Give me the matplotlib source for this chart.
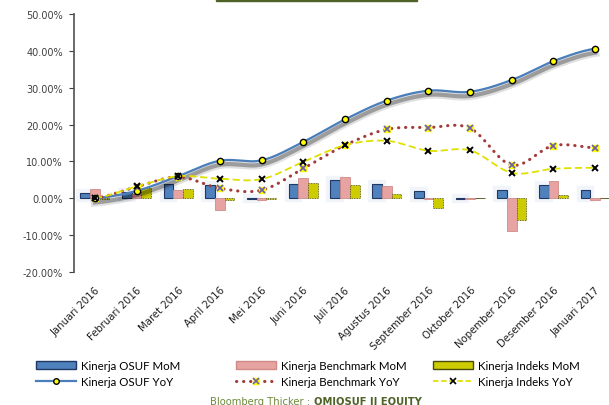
import numpy as np
import matplotlib
matplotlib.use("Agg")
import matplotlib.pyplot as plt
import matplotlib.patheffects as pe
from matplotlib.patches import Patch, Rectangle
from matplotlib.lines import Line2D
from matplotlib.ticker import FuncFormatter

months = ["Januari 2016", "Februari 2016", "Maret 2016", "April 2016", "Mei 2016",
          "Juni 2016", "Juli 2016", "Agustus 2016", "September 2016", "Oktober 2016",
          "Nopember 2016", "Desember 2016", "Januari 2017"]

# monthly returns (%)
osuf_mom = [1.4, 1.8, 4.0, 3.6, -0.2, 4.0, 4.9, 4.0, 2.1, -0.3, 2.2, 3.6, 2.2]
bench_mom = [2.4, 1.2, 2.2, -3.1, -0.5, 5.6, 5.8, 3.4, -0.3, -0.3, -8.8, 4.8, -0.5]
indeks_mom = [-0.3, 2.7, 2.4, -0.5, -0.3, 4.2, 3.6, 1.2, -2.7, 0.2, -5.8, 0.9, 0.2]

# year-on-year (%)
osuf_yoy = [0.0, 2.0, 6.0, 10.2, 10.3, 15.3, 21.4, 26.5, 29.2, 28.9, 32.1, 37.2, 40.6]
bench_yoy = [0.0, 3.1, 5.8, 2.7, 2.2, 8.1, 14.4, 18.7, 19.2, 19.0, 9.0, 14.3, 13.7]
indeks_yoy = [0.0, 3.2, 6.0, 5.3, 5.2, 9.9, 14.4, 15.6, 12.9, 13.0, 6.9, 8.0, 8.3]


def smooth(vals, n=20):
    # catmull-rom style smoothing, like excel's smoothed line
    v = np.asarray(vals, dtype=float)
    xs, ys = [], []
    for i in range(len(v) - 1):
        p0 = v[i - 1] if i > 0 else v[i]
        p1, p2 = v[i], v[i + 1]
        p3 = v[i + 2] if i + 2 < len(v) else v[i + 1]
        m1 = (p2 - p0) / 2
        m2 = (p3 - p1) / 2
        t = np.linspace(0, 1, n, endpoint=False)
        h00 = 2 * t**3 - 3 * t**2 + 1
        h10 = t**3 - 2 * t**2 + t
        h01 = -2 * t**3 + 3 * t**2
        h11 = t**3 - t**2
        ys.append(h00 * p1 + h10 * m1 + h01 * p2 + h11 * m2)
        xs.append(i + t)
    xs.append([len(v) - 1])
    ys.append([v[-1]])
    return np.concatenate(xs), np.concatenate(ys)


W, H = 609, 406
fig = plt.figure(figsize=(W / 100, H / 100), dpi=100)
ax = fig.add_axes([74 / W, 1 - 273 / H, (616 - 74) / W, (273 - 15) / H])

x = np.arange(len(months))
bw = 0.233
blue = "#4F81BD"
pink = "#E6A3A1"
yel = "#CCCC00"

# soft glow behind the blue bars
glow = [pe.Stroke(linewidth=6, foreground="#DCE6F4", alpha=0.4), pe.Normal()]
b1 = ax.bar(x - bw, osuf_mom, bw, color=blue, edgecolor="#1F3864", linewidth=0.8, zorder=2,
            path_effects=glow)
b2 = ax.bar(x, bench_mom, bw, color=pink, edgecolor="#D08A88", linewidth=0.6, zorder=2.1)
b3 = ax.bar(x + bw, indeks_mom, bw, color=yel, edgecolor="#4A4A10", linewidth=0.6,
            linestyle=(0, (1, 1)), zorder=2.1)

# OSUF YoY
sx, sy = smooth(osuf_yoy)
shadow = [pe.SimpleLineShadow(offset=(0, -3), shadow_color="k", alpha=0.12, linewidth=6),
          pe.SimpleLineShadow(offset=(0, -3), shadow_color="k", alpha=0.3, linewidth=3),
          pe.Normal()]
ax.plot(sx, sy, color="#4A7EBB", lw=1.6, zorder=4, path_effects=shadow)
ax.plot(x, osuf_yoy, "o", ms=4.5, mfc="#FFFF00", mec="black", mew=1.0, zorder=6)

# Benchmark YoY
sx, sy = smooth(bench_yoy)
ax.plot(sx, sy, color="#A33B3B", lw=2.2, linestyle=(0, (0.1, 2.2)),
        dash_capstyle="round", zorder=4)
ax.plot(x, bench_yoy, "s", ms=5, mfc="#FFFF00", mec="#FFFF00", zorder=5)
ax.plot(x, bench_yoy, "x", ms=4, mec="#7060A8", mew=1.3, zorder=6)

# Indeks YoY
sx, sy = smooth(indeks_yoy)
ax.plot(sx, sy, color="#E0E000", lw=1.3, linestyle=(0, (4, 2)), zorder=4)
ax.plot(x, indeks_yoy, "x", ms=4, mec="black", mew=1.4, zorder=6)

ax.set_xlim(-0.5, len(months) - 0.5)
ax.set_ylim(-20, 50)
ax.set_yticks(np.arange(-20, 51, 10))
ax.yaxis.set_major_formatter(FuncFormatter(lambda v, p: f"{v:.2f}%"))
ax.tick_params(axis="y", labelsize=7, colors="#404040", length=3.5, pad=4.5)
ax.set_xticks(x)
ax.set_xticklabels(months, rotation=45, ha="right", va="top", rotation_mode="anchor",
                   fontsize=7.3, color="#202020")
ax.tick_params(axis="x", length=0, pad=9)
for s in ["top", "right", "bottom"]:
    ax.spines[s].set_visible(False)
ax.spines["left"].set_color("#505050")
ax.spines["left"].set_linewidth(1.2)

# legend, three columns
h_osuf_mom = Patch(facecolor=blue, edgecolor="#1F3864")
h_bench_mom = Patch(facecolor=pink, edgecolor="#D08A88")
h_idx_mom = Patch(facecolor=yel, edgecolor="#4A4A10")
h_osuf_yoy = Line2D([], [], color="#4A7EBB", lw=1.6, marker="o", ms=4, mfc="#FFFF00", mec="black")
h_bench_yoy = (Line2D([], [], color="#A33B3B", lw=2.2, linestyle=(0, (0.1, 2.2)), dash_capstyle="round"),
               Line2D([], [], ls="none", marker="s", ms=5, mfc="#FFFF00", mec="#FFFF00"),
               Line2D([], [], ls="none", marker="x", ms=4, mec="#7060A8", mew=1.2))
h_idx_yoy = Line2D([], [], color="#E0E000", lw=1.3, linestyle=(0, (3, 1.5)), marker="x", ms=4,
                   mec="black", mew=1.2)

cols = [(36, [h_osuf_mom, h_osuf_yoy], ["Kinerja OSUF MoM", "Kinerja OSUF YoY"]),
        (236, [h_bench_mom, h_bench_yoy], ["Kinerja Benchmark MoM", "Kinerja Benchmark YoY"]),
        (433, [h_idx_mom, h_idx_yoy], ["Kinerja Indeks MoM", "Kinerja Indeks YoY"])]
for xp, hs, ls in cols:
    fig.legend(hs, ls, loc="upper left", bbox_to_anchor=(xp / W, 1 - 361 / H),
               frameon=False, handlelength=3.5, handletextpad=0.4,
               labelspacing=0.4, borderpad=0, borderaxespad=0,
               prop={"family": "Lato", "size": 8.3})

# footer
fig.text(313 / W, 1 - 402 / H, "Bloomberg Thicker : ", ha="right", va="center",
         fontsize=7.2, color="#6E8A3A", family=["Liberation Sans Narrow", "DejaVu Sans"])
fig.text(314 / W, 1 - 402 / H, "OMIOSUF IJ EQUITY", ha="left", va="center",
         fontsize=7.2, color="#4F6228", fontweight="bold", family=["Liberation Sans Narrow", "DejaVu Sans"])

# olive strip at the top
fig.patches.append(Rectangle((216 / W, 1 - 2 / H), (417 - 216) / W, 2 / H,
                             transform=fig.transFigure, color="#4F6228"))

fig.savefig("out.png", dpi=100)
